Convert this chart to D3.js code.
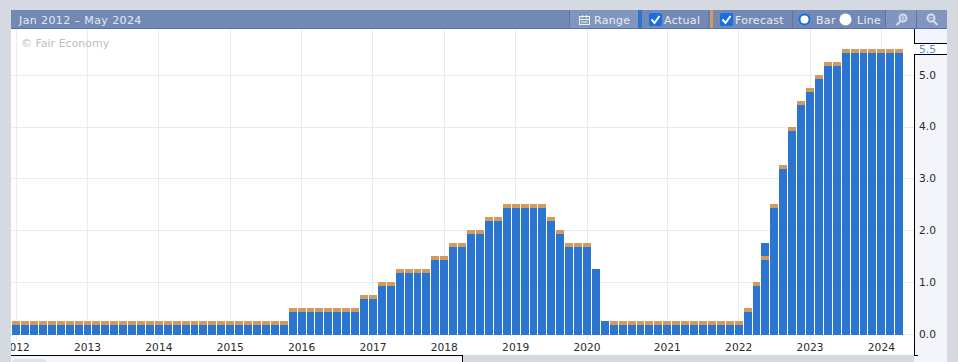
<!DOCTYPE html>
<html><head><meta charset="utf-8">
<script src="https://cdn.jsdelivr.net/npm/d3@7/dist/d3.min.js"></script>
<style>
html,body{margin:0;padding:0;background:#d5d9e2;overflow:hidden}
svg{display:block}
text{font-family:"DejaVu Sans",sans-serif}
</style></head><body><div id="chart"></div>
<script>
const categories = [
"2012-01","2012-03","2012-04","2012-06","2012-08","2012-09","2012-10","2012-12",
"2013-01","2013-03","2013-05","2013-06","2013-07","2013-09","2013-10","2013-12",
"2014-01","2014-03","2014-04","2014-06","2014-07","2014-09","2014-10","2014-12",
"2015-01","2015-03","2015-04","2015-06","2015-07","2015-09","2015-10","2015-12",
"2016-01","2016-03","2016-04","2016-06","2016-07","2016-09","2016-11","2016-12",
"2017-02","2017-03","2017-05","2017-06","2017-07","2017-09","2017-11","2017-12",
"2018-01","2018-03","2018-05","2018-06","2018-08","2018-09","2018-11","2018-12",
"2019-01","2019-03","2019-05","2019-06","2019-07","2019-09","2019-10","2019-12",
"2020-01","2020-03a","2020-03b","2020-04","2020-06","2020-07","2020-09","2020-11","2020-12",
"2021-01","2021-03","2021-04","2021-06","2021-07","2021-09","2021-11","2021-12",
"2022-01","2022-03","2022-05","2022-06","2022-07","2022-09","2022-11","2022-12",
"2023-02","2023-03","2023-05","2023-06","2023-07","2023-09","2023-11","2023-12",
"2024-01","2024-03","2024-05"];
const actual = [
0.25,0.25,0.25,0.25,0.25,0.25,0.25,0.25,
0.25,0.25,0.25,0.25,0.25,0.25,0.25,0.25,
0.25,0.25,0.25,0.25,0.25,0.25,0.25,0.25,
0.25,0.25,0.25,0.25,0.25,0.25,0.25,0.50,
0.50,0.50,0.50,0.50,0.50,0.50,0.50,0.75,
0.75,1.00,1.00,1.25,1.25,1.25,1.25,1.50,
1.50,1.75,1.75,2.00,2.00,2.25,2.25,2.50,
2.50,2.50,2.50,2.50,2.25,2.00,1.75,1.75,
1.75,1.25,0.25,0.25,0.25,0.25,0.25,0.25,0.25,
0.25,0.25,0.25,0.25,0.25,0.25,0.25,0.25,
0.25,0.50,1.00,1.75,2.50,3.25,4.00,4.50,
4.75,5.00,5.25,5.25,5.50,5.50,5.50,5.50,
5.50,5.50,5.50];
const forecast = [
0.25,0.25,0.25,0.25,0.25,0.25,0.25,0.25,
0.25,0.25,0.25,0.25,0.25,0.25,0.25,0.25,
0.25,0.25,0.25,0.25,0.25,0.25,0.25,0.25,
0.25,0.25,0.25,0.25,0.25,0.25,0.25,0.50,
0.50,0.50,0.50,0.50,0.50,0.50,0.50,0.75,
0.75,1.00,1.00,1.25,1.25,1.25,1.25,1.50,
1.50,1.75,1.75,2.00,2.00,2.25,2.25,2.50,
2.50,2.50,2.50,2.50,2.25,2.00,1.75,1.75,
1.75,null,null,0.25,0.25,0.25,0.25,0.25,0.25,
0.25,0.25,0.25,0.25,0.25,0.25,0.25,0.25,
0.25,0.50,1.00,1.50,2.50,3.25,4.00,4.50,
4.75,5.00,5.25,5.25,5.50,5.50,5.50,5.50,
5.50,5.50,5.50];
const yTicks = [0,1,2,3,4,5];
const lastValue = 5.5;
const rangeLabel = "Jan 2012 – May 2024";
const credit = "© Fair Economy";

const W=958,H=362;
const BLUE="#2a75cf",ORANGE="#d19a5e",GRID="#e9ebf3",BG="#d5d9e2",PANEL="#f3f5fa",HEAD="#7389b5";
const svg=d3.select("#chart").append("svg").attr("width",W).attr("height",H);
const x=d3.scaleBand().domain(categories).range([11.7,903.7]).paddingInner(0.1).paddingOuter(0.05);
const y=d3.scaleLinear().domain([0,5.5]).range([334,48.7]);
const px=c=>Math.round(x(c));
const pw=c=>Math.min(8,Math.round(x(c)+x.step())-px(c)-1);
const py=v=>Math.round(y(v));

svg.append("rect").attr("width",W).attr("height",H).attr("fill",BG);
svg.append("rect").attr("x",11).attr("y",29).attr("width",903).attr("height",326).attr("fill","#fff");
svg.append("rect").attr("x",914).attr("y",29).attr("width",33).attr("height",H-29).attr("fill",PANEL);
svg.append("rect").attr("x",11).attr("y",355).attr("width",451).attr("height",7).attr("fill",PANEL);
svg.append("rect").attr("x",12).attr("y",359).attr("width",34).attr("height",8).attr("rx",4).attr("fill","#dfe2ea");

svg.append("defs").append("clipPath").attr("id","plot").append("rect")
  .attr("x",11).attr("y",29).attr("width",903).attr("height",326);
const plot=svg.append("g").attr("clip-path","url(#plot)");

const yearFirst=categories.filter((c,i)=>i===0||c.slice(0,4)!==categories[i-1].slice(0,4));
const xAxis=d3.axisBottom(x).tickValues(yearFirst).tickFormat(c=>c.slice(0,4)).tickSize(0).tickPadding(0);
const gx=plot.append("g").attr("transform","translate(0,347)").call(xAxis);
gx.select(".domain").remove();
gx.selectAll("text").attr("y",0).attr("dy","0.38em").attr("font-size","10.67px").attr("fill","#2a2a2a").attr("font-family","DejaVu Sans");

plot.append("g").selectAll("line").data(yearFirst).join("line")
  .attr("x1",c=>Math.floor(x(c)+x.bandwidth()/2)+0.5).attr("x2",c=>Math.floor(x(c)+x.bandwidth()/2)+0.5)
  .attr("y1",29).attr("y2",341).attr("stroke",GRID);
plot.append("g").selectAll("line").data(yTicks).join("line")
  .attr("x1",11).attr("x2",914).attr("y1",d=>py(d)+0.5).attr("y2",d=>py(d)+0.5).attr("stroke",GRID);

const bars=plot.append("g").attr("shape-rendering","crispEdges");
bars.selectAll("rect.a").data(categories).join("rect").attr("class","a")
  .attr("x",px).attr("width",pw)
  .attr("y",(c,i)=>py(actual[i])).attr("height",(c,i)=>py(0)+1-py(actual[i])).attr("fill",BLUE);
bars.selectAll("rect.f").data(categories.filter((c,i)=>forecast[i]!==null)).join("rect").attr("class","f")
  .attr("x",px).attr("width",pw)
  .attr("y",c=>py(forecast[categories.indexOf(c)])).attr("height",4).attr("fill",ORANGE);

plot.append("text").attr("x",21).attr("y",47).attr("font-size","11px").attr("fill","#bdbdbd").text(credit);

// right axis
const yAxis=d3.axisRight(y).tickValues(yTicks).tickFormat(d3.format(".1f")).tickSize(0).tickPadding(5);
const gy=svg.append("g").attr("transform","translate(914,0)").call(yAxis);
gy.select(".domain").remove();
gy.selectAll("text").attr("font-size","10.67px").attr("fill","#2a2a2a").attr("font-family","DejaVu Sans");
svg.append("rect").attr("x",914).attr("y",43).attr("width",33).attr("height",11).attr("fill","#fff");
svg.append("text").attr("x",919).attr("y",y(lastValue)).attr("dy","0.38em").attr("font-size","10.67px").attr("fill","#4a86d4").text(d3.format(".1f")(lastValue));

const frame=svg.append("g").attr("stroke","#000").attr("fill","none").attr("shape-rendering","crispEdges");
frame.append("path").attr("d","M914.5,29V43.5H947");
frame.append("path").attr("d","M947,54.5H914.5V355.5H918");
frame.append("path").attr("d","M11,355.5H462.5V362");

// header
const head=svg.append("g");
head.append("rect").attr("x",11).attr("y",10).attr("width",936).attr("height",19).attr("fill",HEAD);
head.append("rect").attr("x",11).attr("y",28).attr("width",936).attr("height",1).attr("fill","#5a70a0");
head.append("text").attr("x",19).attr("y",24).attr("font-size","11px").attr("letter-spacing","0.4px").attr("fill","#e3e8f2").text(rangeLabel);

const cell=(a,w,f)=>head.append("rect").attr("x",a).attr("y",10).attr("width",w).attr("height",18).attr("fill",f);
cell(570,68,"#8196bf");cell(886,61,"#8196bf");
cell(638,4,BLUE);cell(710,3,ORANGE);
[[569,"#5f76a6"],[708.5,"#5f76a6"],[792,"#5f76a6"],[885,"#5f76a6"],[916,"#5f76a6"]].forEach(([a,c])=>cell(a,1,c));

const label=(tx,t)=>head.append("text").attr("x",tx).attr("y",24).attr("font-size","11px").attr("letter-spacing","0.3px").attr("fill","#e8ecf4").text(t);
label(594,"Range");label(664,"Actual");label(735,"Forecast");label(816,"Bar");label(857,"Line");

// calendar icon
const ic=head.append("g").attr("fill","none").attr("stroke","#eef1f7");
ic.append("rect").attr("x",579.5).attr("y",16.5).attr("width",10).attr("height",8);
ic.append("path").attr("d","M579.5,19.5H589.5M582.5,15V18M586.5,15V18M581,22H588");
// checkboxes
[649,720].forEach(cx=>{
  head.append("rect").attr("x",cx).attr("y",13).attr("width",13).attr("height",13).attr("rx",2).attr("fill","#1a6fe0");
  head.append("path").attr("d",`M${cx+2.5},19.5l3,3.5l5,-7`).attr("fill","none").attr("stroke","#fff").attr("stroke-width",2);
});
// radios
head.append("circle").attr("cx",804.5).attr("cy",19.5).attr("r",5).attr("fill","#7389b5").attr("stroke","#fff").attr("stroke-width",0);
head.append("circle").attr("cx",804.5).attr("cy",19.5).attr("r",5).attr("fill","#fff").attr("stroke","#1a6fe0").attr("stroke-width",2);
head.append("circle").attr("cx",845.5).attr("cy",19.5).attr("r",6).attr("fill","#fff");
// magnifiers
const mag=(cx,plus)=>{
  const g=head.append("g").attr("stroke","#d5dcea").attr("fill","none").attr("stroke-width",2);
  g.append("circle").attr("cx",cx).attr("cy",18).attr("r",3.5);
  g.append("path").attr("d",plus?`M${cx-2.5},21l-4,4`:`M${cx+2.5},21l4,4`);
  g.append("path").attr("d",`M${cx-2},18h4`).attr("stroke-width",1);
  if(plus) g.append("path").attr("d",`M${cx},16v4`).attr("stroke-width",1);
};
mag(903,true);mag(931,false);
</script></body></html>
